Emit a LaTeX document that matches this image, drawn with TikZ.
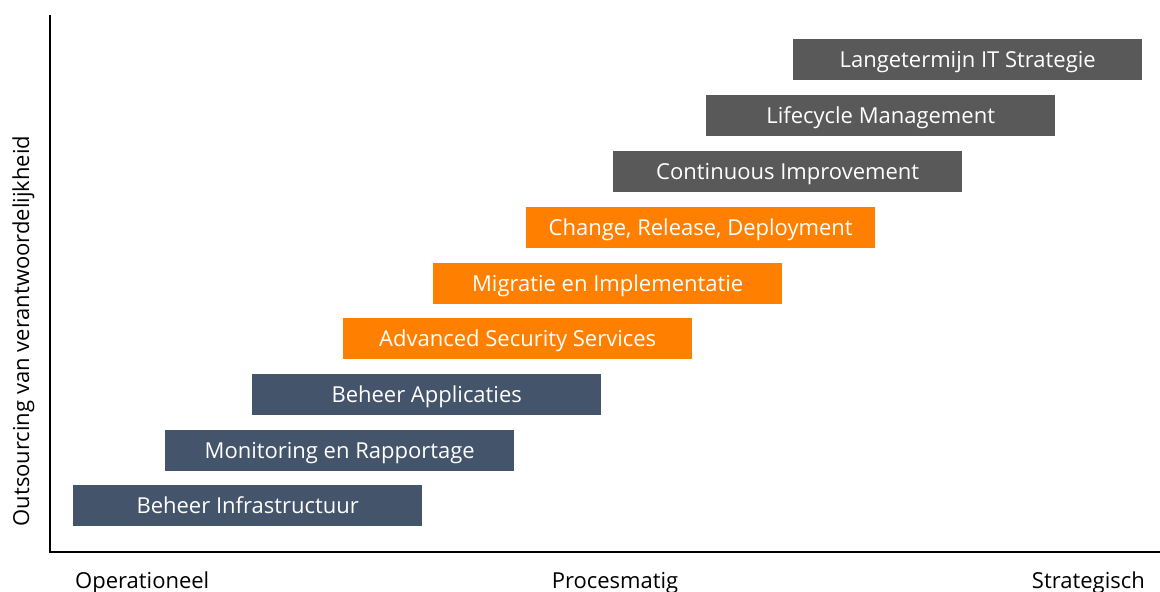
\documentclass[tikz,border=0pt]{standalone}
\usepackage{fontspec}
\setmainfont{Open Sans}
\definecolor{cblue}{HTML}{44546A}
\definecolor{corange}{HTML}{FF8000}
\definecolor{cgray}{HTML}{595959}
\begin{document}
\begin{tikzpicture}[x=1pt,y=-1pt,
  bar/.style={draw=none,minimum width=349pt,minimum height=41pt,inner sep=0pt,text height=18pt,text depth=2pt,text=white,font=\fontsize{22}{26}\selectfont,anchor=north west},
  axlab/.style={font=\fontsize{22}{26}\selectfont,text=black,inner sep=0pt}]
\useasboundingbox (0,0) rectangle (1160,592);
\coordinate (o) at (50,552);
\coordinate (top) at (50,15);
\coordinate (right) at (1160,552);
\draw[line width=2.4pt] (top) -- (o) -- (right);
\node[bar,fill=cblue] (b1) at (73,485) {Beheer Infrastructuur};
\node[bar,fill=cblue] (b2) at (165,430) {Monitoring en Rapportage};
\node[bar,fill=cblue] (b3) at (252,374) {Beheer Applicaties};
\node[bar,fill=corange] (b4) at (343,318) {Advanced Security Services};
\node[bar,fill=corange] (b5) at (433,263) {Migratie en Implementatie};
\node[bar,fill=corange] (b6) at (526,207) {Change, Release, Deployment};
\node[bar,fill=cgray] (b7) at (613,151) {Continuous Improvement};
\node[bar,fill=cgray] (b8) at (706,95) {Lifecycle Management};
\node[bar,fill=cgray] (b9) at (793,39) {Langetermijn IT Strategie};
\node[axlab,anchor=base west] (l1) at (75,588) {Operationeel};
\node[axlab,anchor=base] (l2) at (615,588) {Procesmatig};
\node[axlab,anchor=base east] (l3) at (1145,588) {Strategisch};
\node[axlab,rotate=90,anchor=base] (yl) at (29,331) {Outsourcing van verantwoordelijkheid};
\end{tikzpicture}
\end{document}
